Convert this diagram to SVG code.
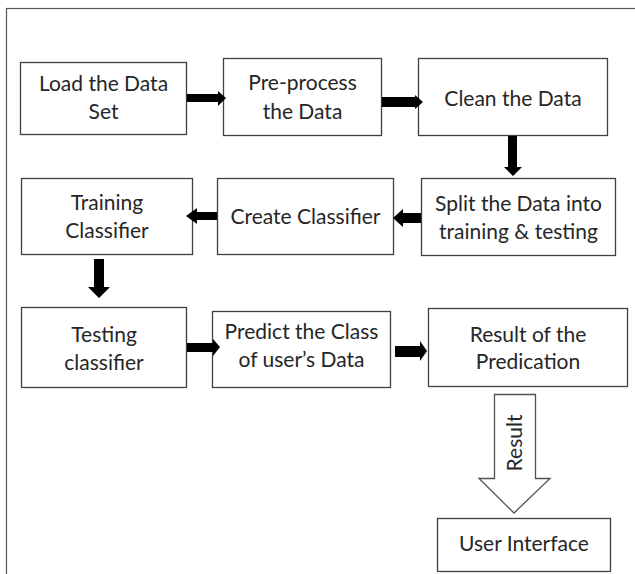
<svg xmlns="http://www.w3.org/2000/svg" width="635" height="574" viewBox="0 0 635 574">
<style>
.box{fill:#fff;stroke:#404040;stroke-width:1.3}
.t{font-family:Lato,"Liberation Sans",sans-serif;font-size:21px;fill:#262626;text-anchor:middle}
.arr{fill:#000}
.block{fill:#fff;stroke:#505050;stroke-width:1.3}
</style>
<rect x="0" y="0" width="635" height="574" fill="#fff"/>
<rect x="6.5" y="8.5" width="650" height="600" fill="none" stroke="#555" stroke-width="1.2"/>
<g id="n1"><rect class="box" x="20.5" y="62.5" width="166" height="72"/><text class="t" x="103.5" y="91">Load the Data</text><text class="t" x="103.5" y="119">Set</text></g>
<g id="n2"><rect class="box" x="223.5" y="58.5" width="158" height="77"/><text class="t" x="302.5" y="90">Pre-process</text><text class="t" x="302.5" y="119">the Data</text></g>
<g id="n3"><rect class="box" x="418.5" y="58.5" width="189" height="77"/><text class="t" x="513" y="106">Clean the Data</text></g>
<g id="n4"><rect class="box" x="421.5" y="178.5" width="194" height="77"/><text class="t" x="518.5" y="211">Split the Data into</text><text class="t" x="518.5" y="239">training &amp; testing</text></g>
<g id="n5"><rect class="box" x="217.5" y="178.5" width="176" height="76"/><text class="t" x="305.5" y="224">Create Classifier</text></g>
<g id="n6"><rect class="box" x="21.5" y="178.5" width="171" height="76"/><text class="t" x="107" y="210">Training</text><text class="t" x="107" y="238">Classifier</text></g>
<g id="n7"><rect class="box" x="21.5" y="307.5" width="165" height="80"/><text class="t" x="104" y="342">Testing</text><text class="t" x="104" y="370">classifier</text></g>
<g id="n8"><rect class="box" x="212.5" y="311.5" width="178" height="76"/><text class="t" x="301.5" y="339">Predict the Class</text><text class="t" x="301.5" y="367">of user’s Data</text></g>
<g id="n9"><rect class="box" x="428.5" y="308.5" width="199" height="78"/><text class="t" x="528" y="342">Result of the</text><text class="t" x="528" y="369">Predication</text></g>
<g id="n10"><rect class="box" x="437.5" y="518.5" width="173" height="53"/><text class="t" x="524" y="551">User Interface</text></g>
<g id="connectors">
<polygon class="arr" points="187,94 218,94 218,91 226,98 218,106 218,102 187,102"/>
<polygon class="arr" points="382,97 415,97 415,95 423,102 415,109 415,107 382,107"/>
<polygon class="arr" points="508,136 517,136 517,167 522,167 513,176 504,167 508,167"/>
<polygon class="arr" points="421,213 403,213 403,209 393,218 403,227 403,223 421,223"/>
<polygon class="arr" points="217,212 197,212 197,208 186,216 197,224 197,220 217,220"/>
<polygon class="arr" points="94,259 104,259 104,287 110,287 99,298 88,287 94,287"/>
<polygon class="arr" points="187,343 213,343 213,339 220,347 213,356 213,352 187,352"/>
<polygon class="arr" points="395,346 420,346 420,341 427,351 420,361 420,357 395,357"/>
<polygon class="block" points="494.5,394.5 535.5,394.5 535.5,478.5 550,478.5 514,513 479,478.5 494.5,478.5"/>
<text class="t" x="0" y="0" transform="translate(521.5,443) rotate(-90)">Result</text>
</g>
</svg>
